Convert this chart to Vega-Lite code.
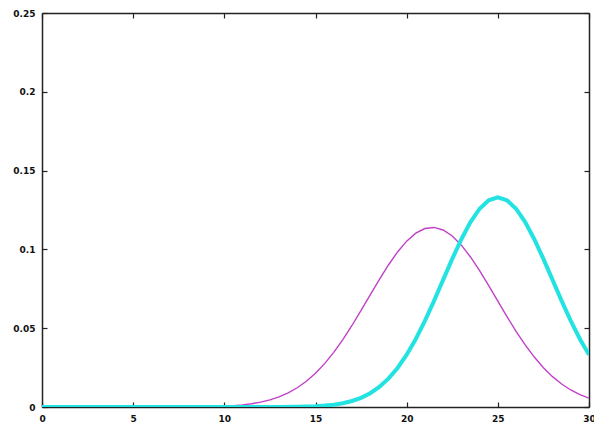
{
  "$schema": "https://vega.github.io/schema/vega-lite/v6.json",
  "width": 547,
  "height": 394,
  "autosize": {"type": "none"},
  "padding": {"left": 42, "top": 13, "right": 5, "bottom": 21},
  "background": "white",
  "config": {
    "view": {"stroke": null},
    "axis": {
      "grid": false,
      "domainColor": "#222",
      "domainWidth": 1.5,
      "tickColor": "#222",
      "tickSize": -5,
      "tickWidth": 1.2,
      "labelFont": "DejaVu Sans",
      "labelFontSize": 9,
      "labelFontWeight": "bold",
      "labelColor": "#111",
      "labelFlush": false,
      "labelBound": false,
      "labelOverlap": false,
      "title": null
    }
  },
  "datasets": {
    "magenta": [
      {"x": 0, "y": 0}, {"x": 1, "y": 0}, {"x": 2, "y": 0}, {"x": 3, "y": 0}, {"x": 4, "y": 0},
      {"x": 5, "y": 0}, {"x": 6, "y": 0}, {"x": 7, "y": 0}, {"x": 8, "y": 0.00007}, {"x": 9, "y": 0.00021},
      {"x": 10, "y": 0.00057}, {"x": 10.5, "y": 0.00089}, {"x": 11, "y": 0.00138}, {"x": 11.5, "y": 0.00209},
      {"x": 12, "y": 0.00309}, {"x": 12.5, "y": 0.00449}, {"x": 13, "y": 0.0064}, {"x": 13.5, "y": 0.00892},
      {"x": 14, "y": 0.0122}, {"x": 14.5, "y": 0.01633}, {"x": 15, "y": 0.02142}, {"x": 15.5, "y": 0.02753},
      {"x": 16, "y": 0.03467}, {"x": 16.5, "y": 0.04278}, {"x": 17, "y": 0.05172}, {"x": 17.5, "y": 0.06127},
      {"x": 18, "y": 0.07111}, {"x": 18.5, "y": 0.08087}, {"x": 19, "y": 0.0901}, {"x": 19.5, "y": 0.09837},
      {"x": 20, "y": 0.10522}, {"x": 20.5, "y": 0.11028}, {"x": 21, "y": 0.11324}, {"x": 21.5, "y": 0.11393},
      {"x": 22, "y": 0.11232}, {"x": 22.5, "y": 0.10849}, {"x": 23, "y": 0.10268}, {"x": 23.5, "y": 0.09521},
      {"x": 24, "y": 0.08649}, {"x": 24.5, "y": 0.07701}, {"x": 25, "y": 0.06716}, {"x": 25.5, "y": 0.05739},
      {"x": 26, "y": 0.04805}, {"x": 26.5, "y": 0.03943}, {"x": 27, "y": 0.03169}, {"x": 27.5, "y": 0.02496},
      {"x": 28, "y": 0.01926}, {"x": 28.5, "y": 0.01457}, {"x": 29, "y": 0.01079}, {"x": 29.5, "y": 0.00783},
      {"x": 30, "y": 0.00557}
    ],
    "cyan": [
      {"x": 0, "y": 0}, {"x": 1, "y": 0}, {"x": 2, "y": 0}, {"x": 3, "y": 0}, {"x": 4, "y": 0},
      {"x": 5, "y": 0}, {"x": 6, "y": 0}, {"x": 7, "y": 0}, {"x": 8, "y": 0}, {"x": 9, "y": 0},
      {"x": 10, "y": 0}, {"x": 11, "y": 0}, {"x": 12, "y": 0}, {"x": 13, "y": 0.00003}, {"x": 14, "y": 0.00016},
      {"x": 15, "y": 0.00051}, {"x": 15.5, "y": 0.00088}, {"x": 16, "y": 0.00148}, {"x": 16.5, "y": 0.0024},
      {"x": 17, "y": 0.0038}, {"x": 17.5, "y": 0.00584}, {"x": 18, "y": 0.00874}, {"x": 18.5, "y": 0.01272},
      {"x": 19, "y": 0.018}, {"x": 19.5, "y": 0.02477}, {"x": 20, "y": 0.03316}, {"x": 20.5, "y": 0.04318},
      {"x": 21, "y": 0.05467}, {"x": 21.5, "y": 0.06733}, {"x": 22, "y": 0.08066}, {"x": 22.5, "y": 0.09397},
      {"x": 23, "y": 0.10648}, {"x": 23.5, "y": 0.11735}, {"x": 24, "y": 0.1258}, {"x": 24.5, "y": 0.13114},
      {"x": 25, "y": 0.13298}, {"x": 25.5, "y": 0.13114}, {"x": 26, "y": 0.1258}, {"x": 26.5, "y": 0.11735},
      {"x": 27, "y": 0.10648}, {"x": 27.5, "y": 0.09397}, {"x": 28, "y": 0.08066}, {"x": 28.5, "y": 0.06733},
      {"x": 29, "y": 0.05467}, {"x": 29.5, "y": 0.04318}, {"x": 30, "y": 0.03316}
    ]
  },
  "layer": [
    {
      "data": {"name": "magenta"},
      "mark": {"type": "line", "color": "#c040c8", "strokeWidth": 1.4, "clip": true},
      "encoding": {
        "x": {"field": "x", "type": "quantitative", "scale": {"domain": [0, 30], "nice": false},
              "axis": {"orient": "bottom", "values": [0, 5, 10, 15, 20, 25, 30], "labelPadding": 12}},
        "y": {"field": "y", "type": "quantitative", "scale": {"domain": [0, 0.25], "nice": false, "zero": false},
              "axis": {"orient": "left", "values": [0, 0.05, 0.1, 0.15, 0.2, 0.25], "format": "~g", "labelPadding": 12}}
      }
    },
    {
      "data": {"name": "cyan"},
      "mark": {"type": "line", "color": "#22e2e2", "strokeWidth": 4, "clip": true},
      "encoding": {
        "x": {"field": "x", "type": "quantitative",
              "axis": {"orient": "top", "values": [0, 5, 10, 15, 20, 25, 30], "labels": false}},
        "y": {"field": "y", "type": "quantitative",
              "axis": {"orient": "right", "values": [0, 0.05, 0.1, 0.15, 0.2, 0.25], "labels": false}}
      }
    }
  ],
  "resolve": {"axis": {"x": "independent", "y": "independent"}}
}
